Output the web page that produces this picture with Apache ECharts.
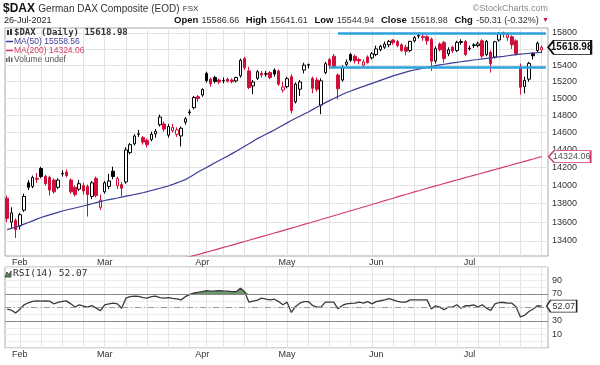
<!DOCTYPE html>
<html><head><meta charset="utf-8">
<script src="https://cdn.jsdelivr.net/npm/echarts@6/dist/echarts.min.js"></script>
<style>html,body{margin:0;padding:0;background:#fff}#c{width:600px;height:365px}</style>
</head><body><div id="c"></div>
<script>
const dates = [
"2021-01-27","2021-01-28","2021-01-29",
"2021-02-01","2021-02-02","2021-02-03","2021-02-04","2021-02-05",
"2021-02-08","2021-02-09","2021-02-10","2021-02-11","2021-02-12",
"2021-02-15","2021-02-16","2021-02-17","2021-02-18","2021-02-19",
"2021-02-22","2021-02-23","2021-02-24","2021-02-25","2021-02-26",
"2021-03-01","2021-03-02","2021-03-03","2021-03-04","2021-03-05",
"2021-03-08","2021-03-09","2021-03-10","2021-03-11","2021-03-12",
"2021-03-15","2021-03-16","2021-03-17","2021-03-18","2021-03-19",
"2021-03-22","2021-03-23","2021-03-24","2021-03-25","2021-03-26",
"2021-03-29","2021-03-30","2021-03-31",
"2021-04-01",
"2021-04-06","2021-04-07","2021-04-08","2021-04-09",
"2021-04-12","2021-04-13","2021-04-14","2021-04-15","2021-04-16",
"2021-04-19","2021-04-20","2021-04-21","2021-04-22","2021-04-23",
"2021-04-26","2021-04-27","2021-04-28","2021-04-29","2021-04-30",
"2021-05-03","2021-05-04","2021-05-05","2021-05-06","2021-05-07",
"2021-05-10","2021-05-11","2021-05-12","2021-05-13","2021-05-14",
"2021-05-17","2021-05-18","2021-05-19","2021-05-20","2021-05-21",
"2021-05-24","2021-05-25","2021-05-26","2021-05-27","2021-05-28",
"2021-05-31",
"2021-06-01","2021-06-02","2021-06-03","2021-06-04",
"2021-06-07","2021-06-08","2021-06-09","2021-06-10","2021-06-11",
"2021-06-14","2021-06-15","2021-06-16","2021-06-17","2021-06-18",
"2021-06-21","2021-06-22","2021-06-23","2021-06-24","2021-06-25",
"2021-06-28","2021-06-29","2021-06-30",
"2021-07-01","2021-07-02",
"2021-07-05","2021-07-06","2021-07-07","2021-07-08","2021-07-09",
"2021-07-12","2021-07-13","2021-07-14","2021-07-15","2021-07-16",
"2021-07-19","2021-07-20","2021-07-21","2021-07-22","2021-07-23",
"2021-07-26"];

const open = [
13860,13600,13620,13560,13730,14030,13990,14080,14190,14100,
14090,14060,13980,14130,14150,14060,13980,13960,14000,13990,
13880,14080,13760,13930,13990,14160,14000,14010,14040,14370,
14470,14580,14540,14510,14520,14585,14690,14700,14570,14620,
14580,14560,14720,14830,14890,15020,15040,15300,15230,15250,
15220,15210,15230,15220,15210,15270,15480,15330,15150,15240,
15300,15290,15310,15340,15330,15100,15140,15260,14960,15110,
15340,15405,15240,15220,14920,15310,15470,15510,15280,15220,
15410,15530,15510,15470,15400,15500,15490,15530,15590,15620,
15650,15710,15690,15650,15620,15580,15700,15760,15740,15750,
15720,15450,15660,15680,15540,15620,15580,15680,15690,15610,
15640,15640,15700,15530,15560,15500,15710,15800,15740,15750,
15700,15380,15140,15230,15540,15580,15586.66];

const high = [
13890,13760,13640,13700,13910,14060,14110,14140,14210,14120,
14110,14080,14080,14170,14180,14080,14000,14060,14030,14010,
14050,14100,13900,14050,14130,14210,14100,14040,14430,14480,
14580,14630,14560,14530,14610,14640,14810,14730,14700,14700,
14660,14670,14780,14870,15030,15040,15120,15320,15250,15270,
15240,15250,15250,15240,15260,15480,15500,15380,15220,15340,
15330,15330,15330,15360,15350,15200,15260,15290,15190,15220,
15430,15420,15260,15250,15240,15440,15490,15540,15300,15400,
15470,15550,15530,15490,15470,15520,15560,15640,15650,15690,
15710,15720,15710,15670,15650,15700,15760,15800,15790,15770,
15740,15630,15680,15700,15620,15640,15700,15720,15710,15640,
15670,15690,15720,15710,15580,15700,15810,15815,15800,15770,
15720,15420,15260,15440,15560,15690,15641.61];

const low = [
13600,13540,13430,13520,13710,13950,13970,14030,14080,14000,
13890,13910,13960,14100,14090,13910,13880,13940,13900,13660,
13850,13870,13730,13910,13960,14070,13960,13880,14020,14350,
14450,14550,14460,14430,14500,14540,14670,14610,14540,14600,
14550,14440,14690,14800,14870,14960,15020,15190,15140,15180,
15170,15180,15190,15180,15190,15250,15340,15110,15050,15220,
15250,15260,15230,15260,15150,15070,15120,14820,14940,15030,
15300,15360,15060,15080,14814,15290,15360,15360,14990,15200,
15390,15440,15420,15410,15380,15420,15470,15510,15570,15600,
15620,15650,15620,15560,15520,15560,15680,15730,15700,15650,
15330,15420,15570,15430,15510,15550,15560,15650,15510,15580,
15610,15620,15490,15510,15310,15480,15690,15740,15700,15600,
15520,15045,15060,15200,15470,15560,15544.94];

const close = [
13640,13700,13520,13680,13880,13980,14090,14070,14100,14020,
13950,13930,14060,14135,14110,13930,13900,14020,13940,13900,
14030,13890,13840,14030,14050,14100,14080,13970,14400,14460,
14560,14585,14490,14460,14580,14615,14780,14640,14670,14660,
14630,14650,14760,14840,15010,15000,15107,15213,15176,15203,
15195,15215,15205,15200,15250,15460,15368,15130,15196,15320,
15280,15296,15250,15292,15170,15136,15236,14856,15171,15197,
15400,15401,15120,15110,15210,15417,15398,15387,15114,15370,
15438,15460,15455,15451,15440,15430,15540,15600,15632,15660,
15693,15677,15641,15581,15571,15693,15740,15765,15755,15700,
15448,15603,15590,15480,15589,15575,15680,15691,15531,15604,
15650,15662,15511,15693,15420,15688,15790,15780,15775,15650,
15540,15133,15216,15422,15515,15669.29,15618.98];

const priorClose = 13870.99;

const ma50 = [
13520,13533,13547,13560,13578,13596,13614,13632,13650,13664,
13678,13692,13706,13720,13731,13742,13753,13764,13775,13787,
13799,13811,13823,13835,13844,13853,13862,13872,13882,13891,
13901,13910,13920,13932,13945,13957,13970,13982,13995,14012,
14030,14047,14065,14093,14121,14150,14176,14202,14228,14255,
14280,14305,14330,14358,14386,14414,14442,14470,14500,14530,
14555,14580,14605,14630,14658,14685,14712,14740,14765,14790,
14815,14840,14867,14895,14922,14950,14974,14998,15022,15046,
15070,15088,15107,15125,15143,15162,15180,15198,15216,15234,
15252,15270,15285,15300,15315,15330,15341,15352,15363,15373,
15384,15395,15403,15411,15419,15427,15434,15442,15450,15456,
15463,15469,15476,15482,15489,15495,15502,15508,15515,15522,
15528,15535,15540,15544,15549,15553,15558.56];

const ma200FirstIndex = 42;
const ma200 = [
13218,13231,13244,13256,13268,13281,13293,13305,13318,13330,
13343,13355,13368,13381,13393,13406,13419,13431,13444,13457,
13470,13483,13496,13509,13522,13535,13548,13561,13575,13588,
13601,13615,13628,13642,13655,13669,13682,13696,13709,13723,
13737,13750,13764,13778,13791,13805,13819,13833,13846,13860,
13874,13888,13901,13915,13929,13942,13956,13970,13983,13996,
14009,14022,14035,14048,14061,14074,14087,14100,14113,14126,
14139,14152,14166,14179,14192,14205,14218,14232,14245,14258,
14271,14284,14297,14311,14324.06];

const rsi = [
47.5,46,42,47.5,54,57,59,59.8,59.5,59.6,
59.4,55.5,57.5,59,59.8,55.4,50.6,54,52,50.6,
52.9,49,45.2,54,55.5,56.4,55.4,49,63.8,66,
67,66.5,64.5,63.8,66,67,64.5,63.8,64.5,63.5,
62.7,61.3,66,69,71.5,72.5,73.5,74.9,74.2,74.5,
74.9,74.5,74.2,73.4,73.4,78.4,73.4,57.9,59.5,61,
63.8,62.5,61.3,62.3,58.8,54,57.9,42.7,51.5,56.4,
58.8,58.8,53,50.6,50.6,57.9,57.9,57.9,48.1,53,
55.4,56,56.4,57.9,56.4,58.8,55.4,58.8,60,61.3,
63.2,61.3,59,57.9,57.9,61.3,61.3,61.3,61.3,61.3,
47.7,52.6,50.6,46.6,50.6,50.6,54,49,52.6,52.6,
54,50.6,54,49,45.6,55.4,57.4,57.4,56.4,56.4,
50.6,36,38.5,44,47.7,52.6,52.07];

const priceTicks = [13400,13600,13800,14000,14200,14400,14600,14800,15000,15200,15400,15600,15800];
const rsiTicks = [10,30,70,90];
const rsiLevels = [30,50,70];
const resistance = {from:"2021-05-19", level:15800};
const support = {from:"2021-05-17", level:15373};

// ---------- build ----------
const font = 'Liberation Sans, Arial, sans-serif';
const mono = 'DejaVu Sans Mono, monospace';
const RED = '#d0103a', BLK = '#000000';
const MA50C = '#3c3c98', MA200C = '#d23c62', CYAN = '#2ba2dc';
const last = close.length - 1;
const f2 = v => v.toFixed(2);
const chg = close[last] - close[last-1];
const chgPct = chg / close[last-1] * 100;

const cats = dates.concat([' ']);
const monthNames = ['Jan','Feb','Mar','Apr','May','Jun','Jul','Aug','Sep','Oct','Nov','Dec'];
const monthStart = cats.map((d,i)=> i>0 && i<dates.length && dates[i].slice(5,7)!==dates[i-1].slice(5,7));
const dow = s => new Date(s+'T00:00:00Z').getUTCDay();
const weekStart = cats.map((d,i)=> i>0 && i<dates.length && dow(dates[i]) < dow(dates[i-1]));

const blackData = [], redData = [];
for (let i=0;i<close.length;i++){
  const prev = i===0 ? priorClose : close[i-1];
  const item = [open[i], close[i], low[i], high[i]];
  if (close[i] >= prev) { blackData.push(item); redData.push('-'); }
  else { redData.push(item); blackData.push('-'); }
}
const ma200Data = dates.map((d,i)=> i<ma200FirstIndex ? null : ma200[i-ma200FirstIndex]);
const rsiOver = rsi.map(v => Math.max(v, 70));

function xAxis(gridIndex){
  return {
    type:'category', gridIndex, data:cats, boundaryGap:true,
    axisLine:{show:false}, axisTick:{show:false, alignWithLabel:true},
    axisLabel:{show:true, interval:(i)=>monthStart[i], formatter:(v)=>monthNames[+v.slice(5,7)-1],
      fontSize:9, color:'#333', margin:2, fontFamily:font},
    splitLine:{show:true, alignWithLabel:true, interval:(i)=>weekStart[i], lineStyle:{color:'#e3e3e3', width:1}}
  };
}
const boxPath = 'path://M0,6L6,0L46,0L46,12L6,12Z';

const option = {
  animation:false,
  backgroundColor:'#fff',
  textStyle:{fontFamily:font},
  grid:[
    {left:5, top:28, width:543, height:228, show:true, borderColor:'#a8a8a8', borderWidth:1, backgroundColor:'#fff', containLabel:false, outerBoundsMode:'none'},
    {left:5, top:267, width:543, height:81, show:true, borderColor:'#a8a8a8', borderWidth:1, backgroundColor:'#fff', containLabel:false, outerBoundsMode:'none'}
  ],
  xAxis:[xAxis(0), xAxis(1)],
  yAxis:[
    {type:'log', logBase:10, gridIndex:0, position:'right', min:13240, max:15860,
     axisLine:{show:false}, axisTick:{show:false, customValues:priceTicks},
     axisLabel:{customValues:priceTicks, formatter:(v)=>String(Math.round(v)), fontSize:9, color:'#333', margin:4, fontFamily:font},
     splitLine:{show:true, lineStyle:{color:'#e3e3e3'}}},
    {type:'value', gridIndex:1, position:'right', min:-10, max:110, interval:10,
     axisLine:{show:false}, axisTick:{show:false},
     axisLabel:{customValues:rsiTicks, fontSize:9, color:'#333', margin:4, fontFamily:font},
     splitLine:{show:true, lineStyle:{color:'#ececec'}}}
  ],
  series:[
    {type:'candlestick', name:'up', xAxisIndex:0, yAxisIndex:0, data:blackData, barWidth:3,
     itemStyle:{color:'#fff', color0:BLK, borderColor:BLK, borderColor0:BLK, borderWidth:1}},
    {type:'candlestick', name:'down', xAxisIndex:0, yAxisIndex:0, data:redData, barWidth:3,
     itemStyle:{color:'#fff', color0:RED, borderColor:RED, borderColor0:RED, borderWidth:1}},
    {type:'line', name:'MA(200)', xAxisIndex:0, yAxisIndex:0, data:ma200Data, showSymbol:false, symbol:'none',
     lineStyle:{color:MA200C, width:1.2}, clip:true, z:3,
     markPoint:{silent:true, data:[
       {coord:[last, close[last]], symbol:boxPath, symbolSize:[43,14], symbolOffset:[28,0],
        itemStyle:{color:'#fff', borderColor:'#111', borderWidth:1.3},
        label:{show:true, position:'inside', formatter:f2(close[last]), color:'#111', fontWeight:'bold', fontSize:10, offset:[2,0], fontFamily:font}},
       {coord:[last, ma200[ma200.length-1]], symbol:boxPath, symbolSize:[42,12], symbolOffset:[28,0],
        itemStyle:{color:'#fff', borderColor:MA200C, borderWidth:1},
        label:{show:true, position:'inside', formatter:f2(ma200[ma200.length-1]), color:'#555', fontSize:9, offset:[2,0], fontFamily:font}}
     ]}},
    {type:'line', name:'MA(50)', xAxisIndex:0, yAxisIndex:0, data:ma50, showSymbol:false, symbol:'none',
     lineStyle:{color:MA50C, width:1.2}, clip:true, z:3,
     markLine:{silent:true, symbol:['none','none'], label:{show:false},
       lineStyle:{color:CYAN, width:2.6, type:'solid'},
       data:[
         [{coord:[dates.indexOf(resistance.from), resistance.level]},{coord:[cats.length-1, resistance.level]}],
         [{coord:[dates.indexOf(support.from), support.level]},{coord:[cats.length-1, support.level]}]
       ]}},
    {type:'line', name:'RSI fill', xAxisIndex:1, yAxisIndex:1, data:rsiOver, showSymbol:false, symbol:'none',
     lineStyle:{width:0, opacity:0}, areaStyle:{origin:70, color:'#5d8c5d', opacity:0.9}, z:2},
    {type:'line', name:'RSI(14)', xAxisIndex:1, yAxisIndex:1, data:rsi, showSymbol:false, symbol:'none',
     lineStyle:{color:'#3a3a3a', width:1.3}, z:4,
     markLine:{silent:true, symbol:['none','none'], label:{show:false},
       data: rsiLevels.map(v => ({yAxis:v, lineStyle:{color: v===50 ? '#999' : '#888', width:1, type: v===50 ? [6,3,1,3] : 'solid'}}))},
     markPoint:{silent:true, data:[
       {coord:[last, rsi[last]], symbol:boxPath, symbolSize:[30,12], symbolOffset:[20,0],
        itemStyle:{color:'#fff', borderColor:'#222', borderWidth:1},
        label:{show:true, position:'inside', formatter:f2(rsi[last]), color:'#333', fontSize:9, offset:[2,0], fontFamily:font}}
     ]}}
  ],
  graphic:[
    {type:'text', x:3, y:9, z:100, style:{text:'{a|$DAX} {b|German DAX Composite (EOD)} {c|FSX}', verticalAlign:'middle',
      rich:{a:{fontSize:12, fontWeight:'bold', fill:'#111', fontFamily:font}, b:{fontSize:10, fill:'#333', fontFamily:font}, c:{fontSize:8, fill:'#333', fontFamily:font}}}},
    {type:'text', x:548, y:9, z:100, style:{text:'\u00A9StockCharts.com', align:'right', verticalAlign:'middle', fontSize:9, fill:'#888', fontFamily:font}},
    {type:'text', x:4, y:20.5, z:100, style:{text:'26-Jul-2021', verticalAlign:'middle', fontSize:9, fill:'#222', fontFamily:font}},
    {type:'text', x:549, y:20.5, z:100, style:{align:'right', verticalAlign:'middle',
      text:'{b|Open} {v|'+f2(open[last])+'}  {b|High} {v|'+f2(high[last])+'}  {b|Low} {v|'+f2(low[last])+'}  {b|Close} {v|'+f2(close[last])+'}  {b|Chg} {v|'+f2(chg)+' ('+f2(chgPct)+'%)} {r|\u25BC}',
      rich:{b:{fontSize:9.5, fontWeight:'bold', fill:'#111', fontFamily:font}, v:{fontSize:9, fill:'#333', fontFamily:font}, r:{fontSize:7, fill:RED, fontFamily:font}}}},
    // price panel legend
    {type:'rect', z:100, shape:{x:7, y:30, width:2, height:5}, style:{fill:'#333'}},
    {type:'rect', z:100, shape:{x:10, y:29, width:2, height:6}, style:{fill:'#333'}},
    {type:'text', x:14, y:32.5, z:100, style:{text:'$DAX (Daily) '+f2(close[last]), verticalAlign:'middle', fontSize:9, fontWeight:'bold', fill:'#333', fontFamily:mono}},
    {type:'line', z:100, shape:{x1:6, y1:41.5, x2:13, y2:41.5}, style:{stroke:MA50C, lineWidth:1.5}},
    {type:'text', x:14, y:41.5, z:100, style:{text:'MA(50) '+f2(ma50[last]), verticalAlign:'middle', fontSize:8.5, fill:MA50C, fontFamily:font}},
    {type:'line', z:100, shape:{x1:6, y1:50.5, x2:13, y2:50.5}, style:{stroke:MA200C, lineWidth:1.5}},
    {type:'text', x:14, y:50.5, z:100, style:{text:'MA(200) '+f2(ma200[ma200.length-1]), verticalAlign:'middle', fontSize:8.5, fill:MA200C, fontFamily:font}},
    {type:'rect', z:100, shape:{x:6, y:58, width:1.5, height:4}, style:{fill:'#666'}},
    {type:'rect', z:100, shape:{x:8.5, y:56.5, width:1.5, height:5.5}, style:{fill:'#666'}},
    {type:'rect', z:100, shape:{x:11, y:57.5, width:1.5, height:4.5}, style:{fill:'#666'}},
    {type:'text', x:14, y:59.5, z:100, style:{text:'Volume undef', verticalAlign:'middle', fontSize:8.5, fill:'#555', fontFamily:font}},
    // RSI legend
    {type:'polygon', z:100, shape:{points:[[5,277],[7,272],[9,275],[11,271],[11,277]]}, style:{fill:'#5d8c5d', stroke:'#333', lineWidth:0.8}},
    {type:'text', x:13, y:274, z:100, style:{text:'RSI(14) '+f2(rsi[last]), verticalAlign:'middle', fontSize:9.5, fill:'#333', fontFamily:mono}}
  ]
};
const chart = echarts.init(document.getElementById('c'), null, {renderer:'canvas', width:600, height:365});
chart.setOption(option);
</script>
</body></html>
